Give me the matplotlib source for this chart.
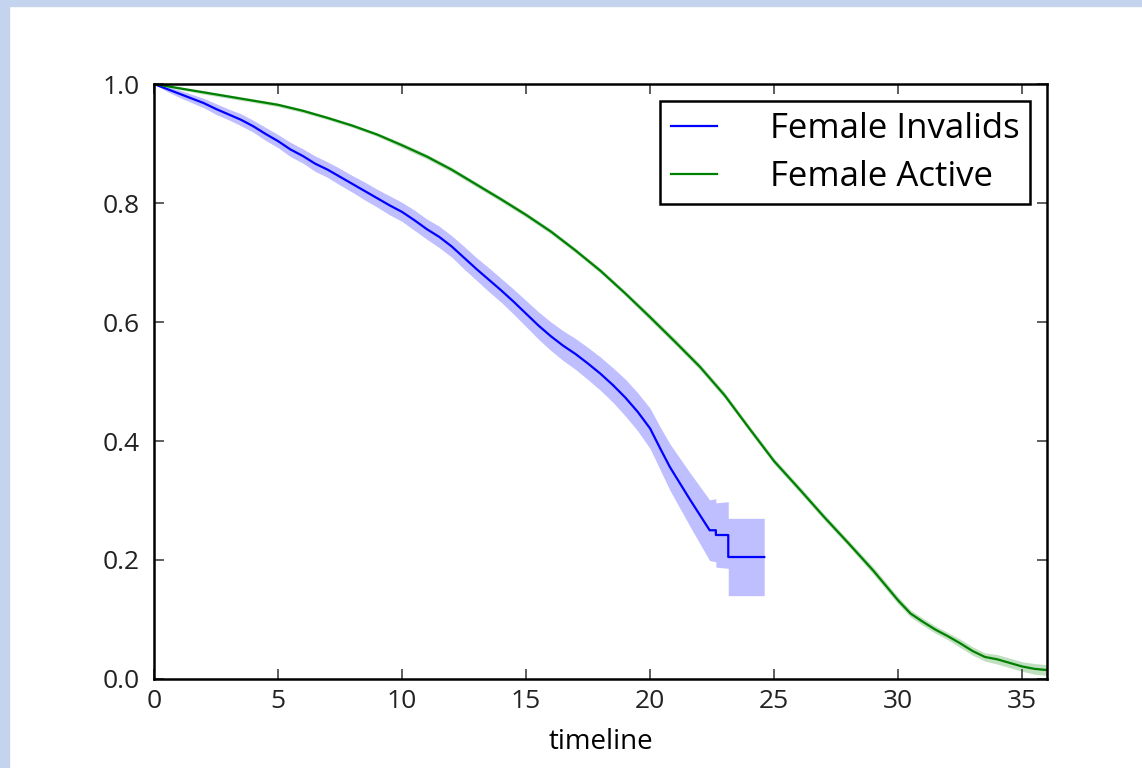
import matplotlib
matplotlib.use("Agg")
import matplotlib.pyplot as plt
from matplotlib.patches import Rectangle
import numpy as np

# Kaplan-Meier estimates
# (repeated times in the tail give the visible steps)
invalid_t = [0, 0.5, 1, 1.5, 2, 2.5, 3, 3.5, 4, 4.5, 5, 5.5, 6, 6.5, 7, 7.5,
             8, 8.5, 9, 9.5, 10, 10.5, 11, 11.5, 12, 12.5, 13, 13.5, 14, 14.5,
             15, 15.5, 16, 16.5, 17, 17.5, 18, 18.5, 19, 19.5, 20, 20.4, 20.8,
             21.2, 21.6, 22.0, 22.4, 22.65, 22.65, 23.15, 23.15, 24.6]
invalid_s = [1.000, 0.992, 0.984, 0.976, 0.968, 0.958, 0.949, 0.940, 0.929,
             0.916, 0.904, 0.890, 0.879, 0.866, 0.856, 0.844, 0.832, 0.820,
             0.808, 0.796, 0.785, 0.771, 0.756, 0.743, 0.727, 0.708, 0.689,
             0.671, 0.653, 0.634, 0.614, 0.594, 0.576, 0.560, 0.546, 0.530,
             0.513, 0.494, 0.473, 0.449, 0.421, 0.388, 0.356, 0.329, 0.302,
             0.276, 0.250, 0.250, 0.242, 0.242, 0.205, 0.205]
invalid_ci = [0.000, 0.004, 0.006, 0.007, 0.008, 0.009, 0.009, 0.010, 0.010,
              0.011, 0.011, 0.012, 0.012, 0.013, 0.013, 0.014, 0.014, 0.015,
              0.015, 0.016, 0.016, 0.017, 0.017, 0.018, 0.018, 0.019, 0.019,
              0.020, 0.020, 0.021, 0.022, 0.023, 0.024, 0.025, 0.026, 0.027,
              0.028, 0.029, 0.031, 0.032, 0.034, 0.036, 0.039, 0.042, 0.045,
              0.048, 0.051, 0.053, 0.054, 0.056, 0.065, 0.065]

active_t = [0, 1, 2, 3, 4, 5, 6, 7, 8, 9, 10, 11, 12, 13, 14, 15, 16, 17, 18,
            19, 20, 21, 22, 23, 24, 25, 26, 27, 28, 29, 30, 30.5, 31, 31.5,
            32, 32.5, 33, 33.5, 34, 34.5, 35, 35.5, 36]
active_s = [1.000, 0.993, 0.986, 0.979, 0.972, 0.965, 0.955, 0.943, 0.930,
            0.915, 0.897, 0.878, 0.856, 0.831, 0.806, 0.780, 0.752, 0.720,
            0.686, 0.648, 0.608, 0.567, 0.525, 0.477, 0.421, 0.366, 0.320,
            0.273, 0.228, 0.182, 0.132, 0.110, 0.096, 0.083, 0.072, 0.060,
            0.047, 0.037, 0.033, 0.027, 0.021, 0.017, 0.015]
active_ci = [0.000, 0.002, 0.003, 0.003, 0.003, 0.003, 0.003, 0.003, 0.003,
             0.003, 0.004, 0.004, 0.004, 0.004, 0.004, 0.004, 0.004, 0.004,
             0.004, 0.004, 0.005, 0.005, 0.005, 0.005, 0.005, 0.005, 0.005,
             0.005, 0.005, 0.006, 0.006, 0.006, 0.006, 0.006, 0.006, 0.007,
             0.007, 0.007, 0.008, 0.008, 0.008, 0.009, 0.009]

labels = ["Female Invalids", "Female Active"]
colors = ["#0000ff", "#008000"]

plt.rcParams['font.family'] = ['Open Sans', 'DejaVu Sans']
plt.rcParams['font.size'] = 20

fig = plt.figure(figsize=(11.42, 7.68), dpi=100, facecolor='white')
ax = fig.add_axes([0.1349, 0.1159, 0.9168 - 0.1349, 0.8906 - 0.1159])

series = [(invalid_t, invalid_s, invalid_ci), (active_t, active_s, active_ci)]
for (t, s, ci), lab, c in zip(series, labels, colors):
    t = np.array(t)
    s = np.array(s)
    ci = np.array(ci)
    ax.fill_between(t, s - ci, s + ci, color=c, alpha=0.25, linewidth=0)
    ax.plot(t, s, color=c, linewidth=1.6, label=lab)

ax.set_xlim(0, 36)
ax.set_ylim(0, 1.0)
ax.set_xticks([0, 5, 10, 15, 20, 25, 30, 35])
ax.set_yticks([0.0, 0.2, 0.4, 0.6, 0.8, 1.0])
ax.set_yticklabels(["0.0", "0.2", "0.4", "0.6", "0.8", "1.0"])
ax.set_xlabel("timeline", fontsize=20, labelpad=10)

for sp in ax.spines.values():
    sp.set_linewidth(1.8)
ax.tick_params(direction='in', top=True, right=True, length=7, width=1.1,
               labelsize=19, color='#333333', labelcolor='#222222')
ax.tick_params(axis='x', pad=7)
ax.tick_params(axis='y', pad=10)

leg = ax.legend(loc='upper right', fontsize=25, fancybox=False, framealpha=1,
                edgecolor='black', handlelength=1.35, handletextpad=1.5,
                borderaxespad=0.5, labelspacing=0.4, borderpad=0.3)
leg.get_frame().set_linewidth(1.8)

# light blue frame on the left and top of the screenshot
fig.add_artist(Rectangle((0, 0), 9 / 1142, 1, transform=fig.transFigure,
                         color='#c4d4ee', zorder=10))
fig.add_artist(Rectangle((0, 1 - 6 / 768), 1, 6 / 768,
                         transform=fig.transFigure, color='#c4d4ee', zorder=10))

fig.savefig("out.png", dpi=100, facecolor='white')
